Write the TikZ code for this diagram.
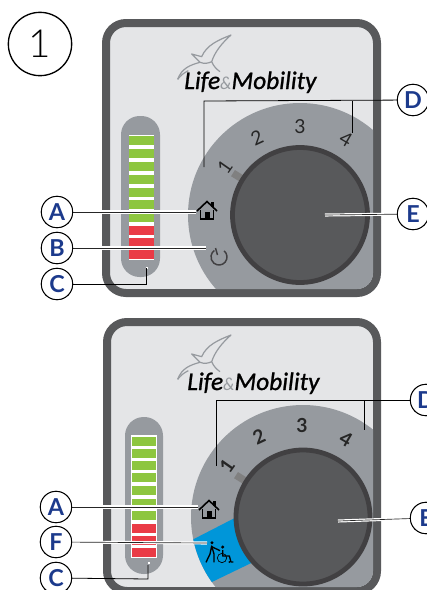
\documentclass[tikz,border=0pt]{standalone}
\usepackage{fontspec}
\setmainfont{Lato}
\newfontfamily\lightfont{Lato Light}
\newfontfamily\brandfont[ItalicFeatures={FakeBold=1}]{Carlito}
\usepackage{xcolor}
\definecolor{framegray}{HTML}{58595B}
\definecolor{panelgray}{HTML}{E4E5E7}
\definecolor{ringgray}{HTML}{969A9F}
\definecolor{knobedge}{HTML}{414042}
\definecolor{letterblue}{HTML}{1C3A8C}
\definecolor{bargreen}{HTML}{8DC63F}
\definecolor{barred}{HTML}{EA3B46}
\definecolor{modeblue}{HTML}{0096D9}

\newcommand{\birdlogo}[2]{
  \begin{scope}[shift={(#1,#2)},x=0.25pt,y=-0.25pt]
    \draw[ringgray,line width=0.9pt,line join=round]
      (38,148) .. controls (50,115) and (75,105) .. (105,97) -- (80,72) -- (110,80)
      .. controls (125,45) and (160,30) .. (198,15)
      .. controls (170,40) and (150,65) .. (140,95)
      .. controls (145,108) and (155,118) .. (165,125);
    \draw[ringgray,line width=0.9pt] (105,97) .. controls (118,102) and (130,100) .. (140,95);
    \draw[ringgray,line width=0.9pt] (38,148) .. controls (48,135) and (58,128) .. (70,122);
  \end{scope}
}
\newcommand{\homeicon}[2]{
  \begin{scope}[shift={(#1,#2)}]
    \draw[black,line width=1.2pt,line join=miter] (-10,1) -- (0,-8.5) -- (10,1);
    \fill[black] (4,-8) rectangle (7,-3);
    \draw[black,line width=1.1pt] (-6.5,0) -- (-6.5,9) -- (6.5,9) -- (6.5,0);
    \fill[black] (-2.5,2) rectangle (2.5,9);
  \end{scope}
}

\tikzset{
  callout/.style={circle,draw=black,fill=white,line width=0.7pt,minimum size=23.5pt,inner sep=0pt,
    text=letterblue,font=\fontsize{17.5}{17.5}\selectfont\bfseries},
  leader/.style={draw=white,line width=0.9pt,double=black!85,double distance=0.5pt},
  leaderplain/.style={draw=black,line width=0.6pt},
  dialnum/.style={inner sep=0pt,text=black!85,font=\fontsize{14.5}{15}\selectfont},
  dialbold/.style={dialnum,font=\fontsize{14.5}{15}\selectfont\bfseries},
  brand/.style={inner sep=0pt,anchor=base west,font=\brandfont\fontsize{19}{19}\selectfont\itshape},
  bargreenbox/.style={fill=bargreen},
  barredbox/.style={fill=barred}
}

\begin{document}
\begin{tikzpicture}[x=0.75pt,y=-0.75pt]
  \clip (0,0) rectangle (427,590);
  \fill[white] (0,0) rectangle (427,590);

  \node[circle,draw=black,line width=1pt,minimum size=47.5pt,inner sep=0pt,
    font=\lightfont\fontsize{29}{29}\selectfont] (badge) at (40,44) {1};

  % upper panel
  \draw[framegray,fill=panelgray,line width=6pt,rounded corners=15pt] (106,23) rectangle (377,293);
  \begin{scope}
    \clip[rounded corners=12pt] (110,27) rectangle (373,289);
    \fill[ringgray] (300,215) circle[radius=112];
  \end{scope}
  \fill[ringgray,rounded corners=14pt] (121,116) rectangle (160,277);
  \fill[white] (129,135) rectangle (154,260);
  \foreach \y in {136,149,162,174.5,187.5,200,213}
    \fill[bargreenbox] (129,\y) rectangle +(25,9);
  \foreach \y in {226,238,250}
    \fill[barredbox] (129,\y) rectangle +(25,9);
  \fill[white] (146,267) rectangle (148,269);

  \birdlogo{165}{30}
  \node[brand] (logotop) at (184,89) {Life\textcolor{ringgray}{\normalfont\itshape\fontsize{13}{13}\selectfont\&}Mobility};

  \draw[gray,line width=5.5pt] (300,215) ++(212:66) -- ++(212:13);
  \draw[knobedge,fill=framegray,line width=3.6pt] (300,215) circle[radius=67.5];
  \node[dialnum,rotate=55] (onetop) at (225,167) {1};
  \node[dialnum,rotate=25] (twotop) at (257,138) {2};
  \node[dialnum] (threetop) at (300,127) {3};
  \node[dialnum,rotate=-30] (fourtop) at (346,139) {4};

  \homeicon{207}{210}
  \draw[knobedge,line width=1.1pt] (219,257) ++(-50:8) arc[start angle=-50,end angle=235,radius=8];
  \draw[knobedge,line width=1.1pt] (215.5,248) -- (217.5,255);

  \coordinate (homeup) at (196,212);
  \coordinate (resetup) at (206,248);
  \coordinate (levelbend) at (146.5,284);
  \coordinate (levelup) at (146.5,268);
  \coordinate (dialbend) at (204,101);
  \coordinate (dialup) at (204,167);
  \coordinate (fourbend) at (352,101);
  \coordinate (fourup) at (352,133);
  \coordinate (knobup) at (325,215);

  \node[callout] (Aup) at (57,212) {A};
  \node[callout] (Bup) at (57,248) {B};
  \node[callout] (Cup) at (57,284) {C};
  \node[callout] (Dup) at (413,100) {D};
  \node[callout] (Eup) at (413,214) {E};

  \draw[leader] (Aup) -- (homeup);
  \draw[leader] (Bup) -- (resetup);
  \draw[leaderplain] (Cup) -- (levelbend) -- (levelup);
  \draw[leaderplain] (Dup) -- (dialbend) -- (dialup);
  \draw[leaderplain] (fourbend) -- (fourup);
  \draw[leader] (Eup) -- (knobup);
  \node[callout] at (Aup) {A};
  \node[callout] at (Bup) {B};
  \node[callout] at (Cup) {C};
  \node[callout] at (Dup) {D};
  \node[callout] at (Eup) {E};

  % lower panel
  \draw[framegray,fill=panelgray,line width=6pt,rounded corners=15pt] (107,322) rectangle (377,591);
  \begin{scope}
    \clip[rounded corners=12pt] (111,326) rectangle (373,587);
    \fill[ringgray] (303,517) circle[radius=112];
    \fill[modeblue] (303,517) ++(168.5:112) arc[start angle=168.5,end angle=144.5,radius=112]
      -- (272,553) -- (260,505) -- cycle;
  \end{scope}
  \fill[ringgray,rounded corners=14pt] (125,417) rectangle (163,574);
  \fill[white] (131,435) rectangle (157,558);
  \foreach \y in {437,449,461,473,486,499,511}
    \fill[bargreenbox] (132,\y) rectangle +(24,9);
  \foreach \y in {524,536,548}
    \fill[barredbox] (132,\y) rectangle +(24,9);
  \fill[white] (148,562) rectangle (150,564);

  \birdlogo{165}{330}
  \node[brand] (logolow) at (187,390) {Life\textcolor{ringgray}{\normalfont\itshape\fontsize{13}{13}\selectfont\&}Mobility};

  \draw[gray,line width=5.5pt] (303,517) ++(212:66) -- ++(212:13);
  \draw[knobedge,fill=framegray,line width=3.6pt] (303,517) circle[radius=67];
  \node[dialbold,rotate=55] (onelow) at (227,466) {1};
  \node[dialbold,rotate=25] (twolow) at (259,437) {2};
  \node[dialbold] (threelow) at (302,426) {3};
  \node[dialbold,rotate=-30] (fourlow) at (346,439) {4};

  \homeicon{209}{509}
  % walking helper with wheelchair
  \begin{scope}[shift={(30,400)},x=0.25pt,y=-0.25pt]
    \fill[black] (546,428) circle[radius=5];
    \draw[black,line width=1pt,line join=round] (528,487) -- (540,462) -- (545,438) -- (552,462) -- (552,487);
    \draw[black,line width=1pt] (545,440) -- (570,452);
    \fill[black] (578,441) circle[radius=5];
    \draw[black,line width=1pt,line join=round] (578,450) -- (578,468) -- (598,468) -- (603,486) -- (610,486);
    \draw[black,line width=0.5pt] (576,474) circle[radius=14];
    \fill[black] (598,486) circle[radius=3];
  \end{scope}

  \coordinate (homelow) at (198,507);
  \coordinate (modelow) at (207,543);
  \coordinate (levelbendlow) at (148,579);
  \coordinate (levellow) at (148,565);
  \coordinate (dialbendlow) at (216,400);
  \coordinate (diallow) at (216,466);
  \coordinate (fourbendlow) at (364,400);
  \coordinate (fourendlow) at (364,430);
  \coordinate (knoblow) at (338,521);

  \node[callout] (Alow) at (56,507) {A};
  \node[callout] (Flow) at (56,542) {F};
  \node[callout] (Clow) at (56,578) {C};
  \node[callout] (Dlow) at (426,400) {D};
  \node[callout] (Elow) at (426,518) {E};

  \draw[leader] (Alow) -- (homelow);
  \draw[leader] (Flow) -- (modelow);
  \draw[leaderplain] (Clow) -- (levelbendlow) -- (levellow);
  \draw[leaderplain] (Dlow) -- (dialbendlow) -- (diallow);
  \draw[leaderplain] (fourbendlow) -- (fourendlow);
  \draw[leader] (Elow) -- (knoblow);
  \node[callout] at (Alow) {A};
  \node[callout] at (Flow) {F};
  \node[callout] at (Clow) {C};
  \node[callout] at (Dlow) {D};
  \node[callout] at (Elow) {E};
\end{tikzpicture}
\end{document}
